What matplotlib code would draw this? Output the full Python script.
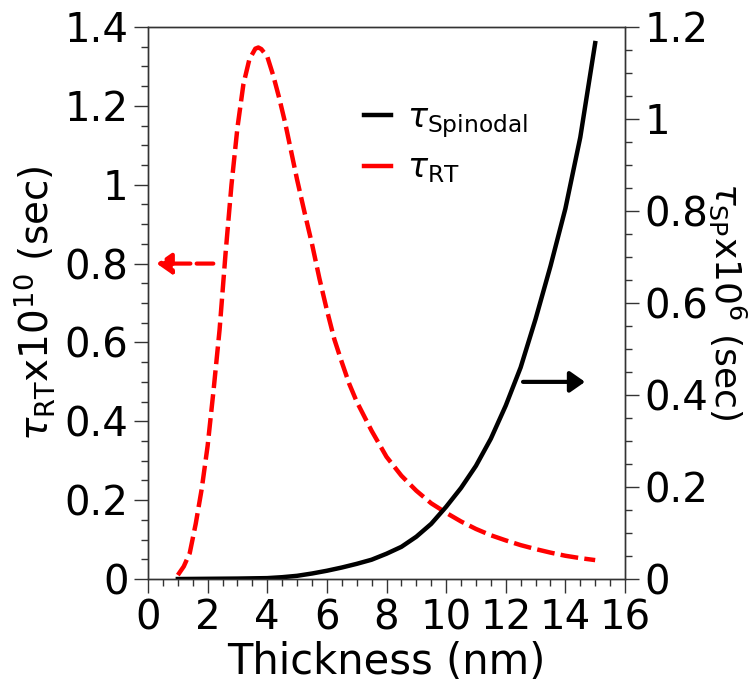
import matplotlib
matplotlib.use("Agg")
import matplotlib.pyplot as plt
from matplotlib.lines import Line2D
from matplotlib.ticker import MultipleLocator, FuncFormatter

plt.rcParams['font.family'] = ['DejaVu Sans']
plt.rcParams['mathtext.fontset'] = 'dejavusans'

# Data
thickness_rt = [1.0, 1.2, 1.4, 1.6, 1.8, 2.0, 2.2, 2.4, 2.6, 2.8, 3.0, 3.2, 3.4, 3.6,
                3.7, 3.8, 4.0, 4.2, 4.4, 4.6, 4.8, 5.0, 5.25, 5.5, 5.75, 6.0, 6.25,
                6.5, 6.75, 7.0, 7.5, 8.0, 8.5, 9.0, 9.5, 10.0, 10.5, 11.0, 11.5,
                12.0, 12.5, 13.0, 13.5, 14.0, 14.5, 15.0]
tau_rt = [0.01, 0.032, 0.066, 0.14, 0.228, 0.338, 0.48, 0.632, 0.825, 1.0, 1.145,
          1.255, 1.318, 1.345, 1.348, 1.344, 1.325, 1.277, 1.22, 1.157, 1.085, 1.013,
          0.93, 0.85, 0.762, 0.682, 0.608, 0.55, 0.495, 0.45, 0.376, 0.31, 0.262,
          0.224, 0.192, 0.168, 0.146, 0.127, 0.111, 0.098, 0.086, 0.076, 0.067,
          0.059, 0.053, 0.048]

thickness_sp = [1.0, 2.0, 3.0, 4.0, 4.5, 5.0, 5.5, 6.0, 6.5, 7.0, 7.5, 8.0, 8.5, 9.0,
                9.5, 10.0, 10.5, 11.0, 11.5, 12.0, 12.5, 13.0, 13.5, 14.0, 14.5, 15.0]
tau_sp = [0.0, 0.0005, 0.001, 0.002, 0.004, 0.007, 0.012, 0.018, 0.025, 0.033, 0.042,
          0.055, 0.07, 0.092, 0.12, 0.157, 0.198, 0.246, 0.305, 0.377, 0.46, 0.565,
          0.68, 0.805, 0.96, 1.165]

x_ticks = [0, 2, 4, 6, 8, 10, 12, 14, 16]
left_ticks = [0, 0.2, 0.4, 0.6, 0.8, 1.0, 1.2, 1.4]
right_ticks = [0, 0.2, 0.4, 0.6, 0.8, 1.0, 1.2]

label_rt = r'$\tau_{\rm RT}$'
label_sp = r'$\tau_{\rm Spinodal}$'

fig = plt.figure(figsize=(7.56, 6.85), dpi=100)
ax = fig.add_axes([0.1958, 0.1547, 0.6309, 0.8059])
ax2 = ax.twinx()

ax.plot(thickness_rt, tau_rt, color='#ff0000', lw=3.2, dashes=(4, 1.4),
        solid_capstyle='butt', solid_joinstyle='round')
ax2.plot(thickness_sp, tau_sp, color='black', lw=3.2, solid_joinstyle='round')

ax.set_xlim(0, 16)
ax.set_ylim(0, 1.4)
ax2.set_ylim(0, 1.2)

fmt = FuncFormatter(lambda v, p: '%g' % round(v, 3))
ax.set_xticks(x_ticks)
ax.set_yticks(left_ticks)
ax2.set_yticks(right_ticks)
ax.xaxis.set_minor_locator(MultipleLocator(0.5))
ax.yaxis.set_minor_locator(MultipleLocator(0.05))
ax2.yaxis.set_minor_locator(MultipleLocator(0.05))
ax.yaxis.set_major_formatter(fmt)
ax2.yaxis.set_major_formatter(fmt)

spine_c = '#333333'
for a in (ax, ax2):
    for s in a.spines.values():
        s.set_color(spine_c)
        s.set_linewidth(1.0)
    a.tick_params(which='major', direction='out', length=10, width=1, color=spine_c,
                  labelsize=29, pad=4)
    a.tick_params(which='minor', direction='out', length=5, width=1, color=spine_c)
ax.tick_params(axis='y', which='both', right=False)
ax.tick_params(axis='x', which='both', top=False)

ax.set_xlabel('Thickness (nm)', fontsize=30, labelpad=2)
ax.set_ylabel(r'$\tau_{\rm RT}$x10$^{10}$ (sec)', fontsize=28)
ax2.set_ylabel(r'$\tau_{\rm SP}$x10$^{6}$ (sec)', fontsize=26, rotation=270)
ax.yaxis.set_label_coords(-0.24, 0.5)
ax2.yaxis.set_label_coords(1.215, 0.503)
for lab in (ax.yaxis.label, ax2.yaxis.label):
    lab.set_va('center')
    lab.set_ha('center')
    lab.set_rotation_mode('anchor')

# arrows
ax.annotate('', xy=(0.29, 0.8), xytext=(2.19, 0.8),
            arrowprops=dict(arrowstyle='-|>,head_length=0.5,head_width=0.35',
                            color='#ff0000', lw=3, linestyle=(0, (4, 1.5)),
                            mutation_scale=18, shrinkA=0, shrinkB=0))
ax.annotate('', xy=(14.66, 0.5), xytext=(12.58, 0.5),
            arrowprops=dict(arrowstyle='-|>,head_length=0.5,head_width=0.35',
                            color='black', lw=3,
                            mutation_scale=18, shrinkA=0, shrinkB=0))

h_sp = Line2D([], [], color='black', lw=3.2)
h_rt = Line2D([], [], color='#ff0000', lw=3.2)
leg = ax2.legend(handles=[h_sp, h_rt], labels=[label_sp, label_rt], loc='upper left',
                 bbox_to_anchor=(0.425, 0.89), frameon=False, fontsize=24,
                 handlelength=0.8, handletextpad=0.5, labelspacing=0.35,
                 borderaxespad=0)

fig.savefig('out.png', dpi=100)
